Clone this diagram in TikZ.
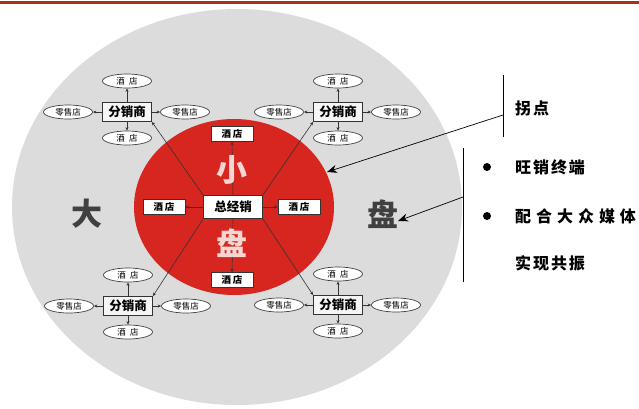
\documentclass[tikz,border=0pt]{standalone}
\usepackage{fontspec}
\setmainfont{Noto Sans CJK SC}
\usetikzlibrary{arrows.meta,shapes.geometric}
\definecolor{diskgray}{HTML}{DCDCDC}
\definecolor{bigred}{HTML}{D6261F}
\definecolor{rulered}{HTML}{A5311C}
\definecolor{pale}{HTML}{F6D6D2}
\tikzset{
  sub/.style={draw=black!75, fill=white, ellipse, inner sep=0pt, minimum width=49pt, minimum height=14pt, font=\fontsize{8.5}{9}\selectfont, line width=0.7pt},
  dist/.style={draw=black!80, fill=black!4, line width=0.7pt, minimum width=49pt, minimum height=19pt, inner sep=0pt, font=\fontsize{12.5}{13}\selectfont\bfseries},
  hotel/.style={draw=black!80, fill=white, minimum width=42pt, minimum height=15pt, inner sep=0pt, font=\fontsize{9.5}{10}\selectfont\bfseries},
  core/.style={draw=black!80, fill=white, minimum width=59pt, minimum height=23pt, inner sep=0pt, font=\fontsize{12.5}{13}\selectfont\bfseries},
  arr/.style={-{Stealth[length=3.5pt,width=3pt]}, line width=0.6pt, black!80},
  bigarr/.style={-{Stealth[length=10pt,width=8pt]}, line width=0.7pt, black},
  sidetext/.style={anchor=west, inner sep=0pt, font=\fontsize{16}{17}\selectfont\bfseries},
  bullet/.style={circle, fill=black, inner sep=0pt, minimum size=8pt},
  bigchar/.style={inner sep=0pt, font=\fontsize{31}{32}\selectfont\bfseries}
}
\begin{document}
\begin{tikzpicture}[x=1pt,y=-1pt]
\useasboundingbox (0,0) rectangle (639,408);
\clip (0,0) rectangle (639,408);
\fill[white] (0,0) rectangle (639,408);
\draw[rulered, line width=3pt] (0,2) -- (639,2);
% disks
\fill[diskgray] (237,207) ellipse [x radius=225, y radius=198];
\fill[bigred] (234,207) ellipse [x radius=100, y radius=88];
% core
\node[core] (core) at (233,207) {总经销};
\node[hotel] (h1) at (232,134) {酒\,店};
\node[hotel] (h2) at (232,280) {酒\,店};
\node[hotel] (h3) at (164,207) {酒\,店};
\node[hotel] (h4) at (299,207) {酒\,店};
\draw[arr] (core.north) -- (h1.south);
\draw[arr] (core.south) -- (h2.north);
\draw[arr] (core.west) -- (h3.east);
\draw[arr] (core.east) -- (h4.west);
\node[bigchar, text=pale] (xiao) at (232,170) {小};
\node[bigchar, text=pale] (pan1) at (232,243) {盘};
% distributor clusters
\foreach \n/\x/\y in {A/127/112, B/338/112, C/128/306, D/338/305}{
  \node[dist] (dist\n) at (\x,\y) {分销商};
  \node[sub] (up\n) at (\x,\y-31) {酒\enspace 店};
  \node[sub] (dn\n) at (\x,\y+26) {酒\enspace 店};
  \node[sub] (lf\n) at (\x-59,\y) {零售店};
  \node[sub] (rt\n) at (\x+58,\y) {零售店};
  \draw[arr] (dist\n.north) -- (up\n.south);
  \draw[arr] (dist\n.south) -- (dn\n.north);
  \draw[arr] (dist\n.west) -- (lf\n.east);
  \draw[arr] (dist\n.east) -- (rt\n.west);
}
\draw[arr] (core.north west) -- (distA.south east);
\draw[arr] (core.north east) -- (distB.south west);
\draw[arr] (core.south west) -- (distC.north east);
\draw[arr] (core.south east) -- (distD.north west);
% big outer characters
\node[bigchar, text=black!75] (da1) at (87,214) {大};
\node[bigchar, text=black!75] (pan2) at (383,214) {盘};
% right annotations
\coordinate (k1) at (503,75);
\coordinate (k2) at (503,137);
\coordinate (k) at (503,115);
\coordinate (kt) at (327,172);
\draw[line width=0.8pt] (k1) -- (k2);
\draw[bigarr] (k) -- (kt);
\coordinate (m1) at (463,148);
\coordinate (m2) at (463,282);
\coordinate (m) at (463,197);
\coordinate (mt) at (398,221);
\draw[line width=0.8pt] (m1) -- (m2);
\draw[bigarr] (m) -- (mt);
\node[sidetext] (t1) at (515,108) {\addfontfeatures{LetterSpace=12}拐点};
\node[bullet] (b1) at (487,167) {};
\node[bullet] (b2) at (487,216) {};
\node[sidetext] (t2) at (515,167) {\addfontfeatures{LetterSpace=12}旺销终端};
\node[sidetext] (t3) at (515,216) {\addfontfeatures{LetterSpace=31}配合大众媒体};
\node[sidetext] (t4) at (515,263) {\addfontfeatures{LetterSpace=12}实现共振};
\end{tikzpicture}
\end{document}
